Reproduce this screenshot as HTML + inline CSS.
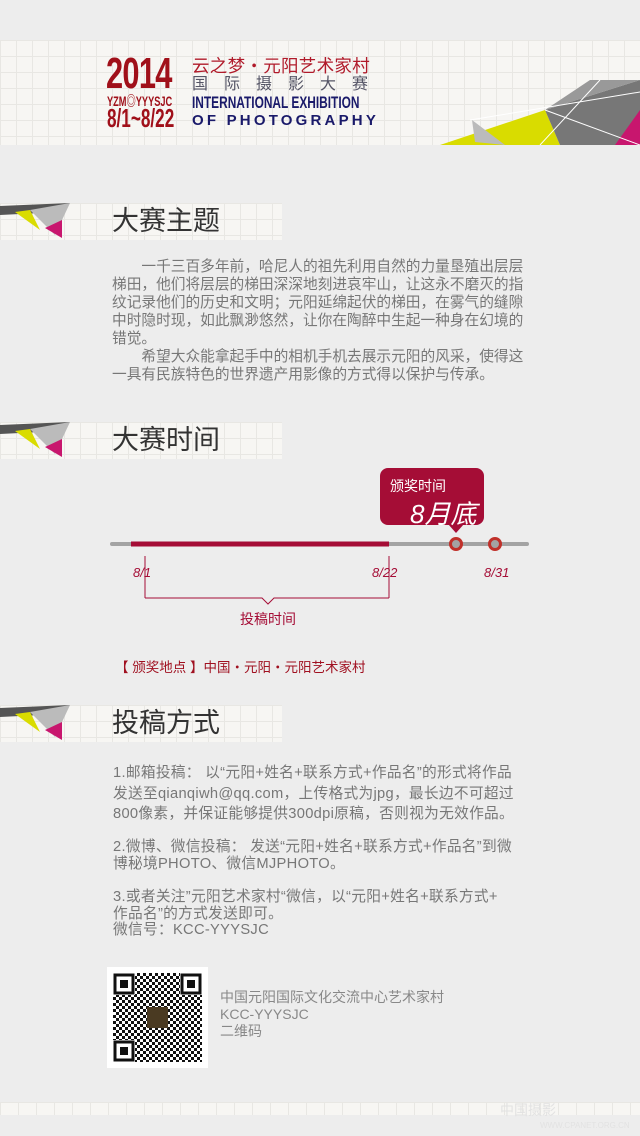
<!DOCTYPE html>
<html><head><meta charset="utf-8"><style>
*{margin:0;padding:0;box-sizing:border-box}
body{width:640px;height:1136px;background:#ededed;position:relative;overflow:hidden;font-family:"Liberation Sans","Noto Sans CJK SC",sans-serif}
.a{position:absolute;white-space:nowrap}
.grid{background-color:#f7f6f3;background-image:linear-gradient(#e8e7e3 1px,transparent 1px),linear-gradient(90deg,#e8e7e3 1px,transparent 1px);background-size:16px 16px}
.bar{position:absolute;left:0;width:282px;height:37px}
.t{position:absolute;left:112px;font-size:27px;color:#333;line-height:37px}
.p{color:#777;font-size:14.7px}
.g{color:#888;font-size:14px}
</style></head><body>
<div class="a grid" style="left:0;top:40px;width:640px;height:105px"></div>
<svg class="a" style="left:0;top:40px" width="640" height="105">
<polygon points="440,105 545,70 560,105" fill="#d9dc00"/>
<polygon points="545,70 640,40 640,105 560,105" fill="#777"/>
<polygon points="545,70 590,40 640,40" fill="#999"/>
<polygon points="475,102 472,80 505,105" fill="#bbb"/>
<polygon points="615,105 640,70 640,105" fill="#c8166e"/>
<line x1="470" y1="80" x2="640" y2="52" stroke="#fff" stroke-width="1"/>
<line x1="545" y1="70" x2="640" y2="105" stroke="#fff" stroke-width="1"/>
<line x1="600" y1="40" x2="540" y2="105" stroke="#fff" stroke-width="1"/>
</svg>
<div class="a" style="left:106px;top:51px;font-size:44px;line-height:46px;font-weight:bold;color:#a0101a;transform:scaleX(.7);transform-origin:left;letter-spacing:-1px">2014</div>
<div class="a" style="left:107px;top:94px;font-size:14px;line-height:14px;font-weight:bold;color:#a0101a;transform:scaleX(.66);transform-origin:left">YZM◎YYYSJC</div>
<div class="a" style="left:107px;top:105px;font-size:26px;line-height:26px;font-weight:bold;color:#a0101a;transform:scaleX(.66);transform-origin:left">8/1~8/22</div>
<div class="a" style="left:192px;top:56px;font-size:17.5px;line-height:20px;color:#b01a2a;letter-spacing:.3px">云之梦・元阳艺术家村</div>
<div class="a" style="left:192px;top:76px;font-size:16px;line-height:18px;color:#556;letter-spacing:16px">国际摄影大赛</div>
<div class="a" style="left:192px;top:94px;font-size:17px;line-height:18px;font-weight:bold;color:#1a1a6a;transform:scaleX(.7);transform-origin:left">INTERNATIONAL EXHIBITION</div>
<div class="a" style="left:192px;top:113px;font-size:15px;line-height:16px;font-weight:bold;color:#1a1a6a;letter-spacing:3.2px">OF PHOTOGRAPHY</div>
<div class="bar grid" style="top:203px"></div>
<div class="bar grid" style="top:422px"></div>
<div class="bar grid" style="top:705px"></div>
<svg class="a" style="left:0;top:200px" width="90" height="45"><polygon points="0,6 70,3 60,12 0,15" fill="#555"/><polygon points="15,12 40,30 30,10" fill="#d9dc00"/><polygon points="30,10 70,3 55,35" fill="#bbb"/><polygon points="45,28 62,20 62,38" fill="#c8166e"/></svg>
<svg class="a" style="left:0;top:419px" width="90" height="45"><polygon points="0,6 70,3 60,12 0,15" fill="#555"/><polygon points="15,12 40,30 30,10" fill="#d9dc00"/><polygon points="30,10 70,3 55,35" fill="#bbb"/><polygon points="45,28 62,20 62,38" fill="#c8166e"/></svg>
<svg class="a" style="left:0;top:702px" width="90" height="45"><polygon points="0,6 70,3 60,12 0,15" fill="#555"/><polygon points="15,12 40,30 30,10" fill="#d9dc00"/><polygon points="30,10 70,3 55,35" fill="#bbb"/><polygon points="45,28 62,20 62,38" fill="#c8166e"/></svg>
<div class="t" style="top:203px">大赛主题</div>
<div class="t" style="top:422px">大赛时间</div>
<div class="t" style="top:705px">投稿方式</div>
<div class="a p" style="left:112px;top:258px;line-height:18px;letter-spacing:0">
<div>　　一千三百多年前，哈尼人的祖先利用自然的力量垦殖出层层</div>
<div>梯田，他们将层层的梯田深深地刻进哀牢山，让这永不磨灭的指</div>
<div>纹记录他们的历史和文明；元阳延绵起伏的梯田，在雾气的缝隙</div>
<div>中时隐时现，如此飘渺悠然，让你在陶醉中生起一种身在幻境的</div>
<div>错觉。</div>
<div>　　希望大众能拿起手中的相机手机去展示元阳的风采，使得这</div>
<div>一具有民族特色的世界遗产用影像的方式得以保护与传承。</div>
</div>
<svg class="a" style="left:0;top:460px" width="640" height="180">
<line x1="112" y1="84" x2="527" y2="84" stroke="#a3a3a3" stroke-width="4" stroke-linecap="round"/>
<line x1="131" y1="84" x2="389" y2="84" stroke="#a50d36" stroke-width="5"/>
<rect x="380" y="8" width="104" height="57" rx="8" fill="#a50d36"/>
<polygon points="448,64 464,64 456,73" fill="#a50d36"/>
<circle cx="456" cy="84" r="5.5" fill="#a3a3a3" stroke="#c0302a" stroke-width="3"/>
<circle cx="495" cy="84" r="5.5" fill="#a3a3a3" stroke="#c0302a" stroke-width="3"/>
<line x1="145" y1="96" x2="145" y2="138" stroke="#a50d36" stroke-width="1"/>
<line x1="389" y1="96" x2="389" y2="138" stroke="#a50d36" stroke-width="1"/>
<polyline points="145,138 262,138 268,144 274,138 389,138" fill="none" stroke="#a50d36" stroke-width="1"/>
</svg>
<div class="a" style="left:390px;top:476px;font-size:14px;color:#fff">颁奖时间</div>
<div class="a" style="left:410px;top:494px;font-size:26px;color:#fff;font-style:italic">8月底</div>
<div class="a" style="left:133px;top:565px;font-size:13px;color:#a50d36;font-style:italic">8/1</div>
<div class="a" style="left:372px;top:565px;font-size:13px;color:#a50d36;font-style:italic">8/22</div>
<div class="a" style="left:484px;top:565px;font-size:13px;color:#a50d36;font-style:italic">8/31</div>
<div class="a" style="left:240px;top:609px;font-size:14px;color:#a50d36">投稿时间</div>
<div class="a" style="left:115px;top:656px;font-size:13.5px;color:#a01020">【 颁奖地点 】中国・元阳・元阳艺术家村</div>
<div class="a p" style="left:113px;top:763px;line-height:20.5px;letter-spacing:.3px">1.邮箱投稿： 以“元阳+姓名+联系方式+作品名”的形式将作品<br>发送至qianqiwh@qq.com，上传格式为jpg，最长边不可超过<br>800像素，并保证能够提供300dpi原稿，否则视为无效作品。</div>
<div class="a p" style="left:113px;top:839px;line-height:16.5px;letter-spacing:.3px">2.微博、微信投稿： 发送“元阳+姓名+联系方式+作品名”到微<br>博秘境PHOTO、微信MJPHOTO。</div>
<div class="a p" style="left:113px;top:889px;line-height:16.5px;letter-spacing:.3px">3.或者关注”元阳艺术家村“微信，以“元阳+姓名+联系方式+<br>作品名”的方式发送即可。<br>微信号：KCC-YYYSJC</div>
<div class="a" style="left:107px;top:967px;width:101px;height:101px;background:#fff"></div>
<svg class="a" style="left:113px;top:973px" width="89" height="89">
<defs><pattern id="q" width="6" height="6" patternUnits="userSpaceOnUse"><rect width="3" height="3" fill="#111"/><rect x="3" y="3" width="3" height="3" fill="#111"/></pattern></defs>
<rect width="89" height="89" fill="url(#q)"/>
<g fill="#fff"><rect width="22" height="22"/><rect x="67" width="22" height="22"/><rect y="67" width="22" height="22"/></g>
<g fill="none" stroke="#111" stroke-width="3"><rect x="2" y="2" width="18" height="18"/><rect x="69" y="2" width="18" height="18"/><rect x="2" y="69" width="18" height="18"/></g>
<g fill="#111"><rect x="7" y="7" width="8" height="8"/><rect x="74" y="7" width="8" height="8"/><rect x="7" y="74" width="8" height="8"/></g>
<rect x="34" y="34" width="21" height="21" fill="#4a3a22"/>
</svg>
<div class="a g" style="left:220px;top:989px;line-height:17px">中国元阳国际文化交流中心艺术家村<br>KCC-YYYSJC<br>二维码</div>
<div class="a grid" style="left:0;top:1102px;width:640px;height:13px;background-size:18px 18px"></div>
<div class="a" style="left:500px;top:1100px;font-size:14px;color:#e2e2e2">中国摄影</div>
<div class="a" style="left:540px;top:1121px;font-size:8px;color:#e2e2e2">WWW.CPANET.ORG.CN</div>
</body></html>
